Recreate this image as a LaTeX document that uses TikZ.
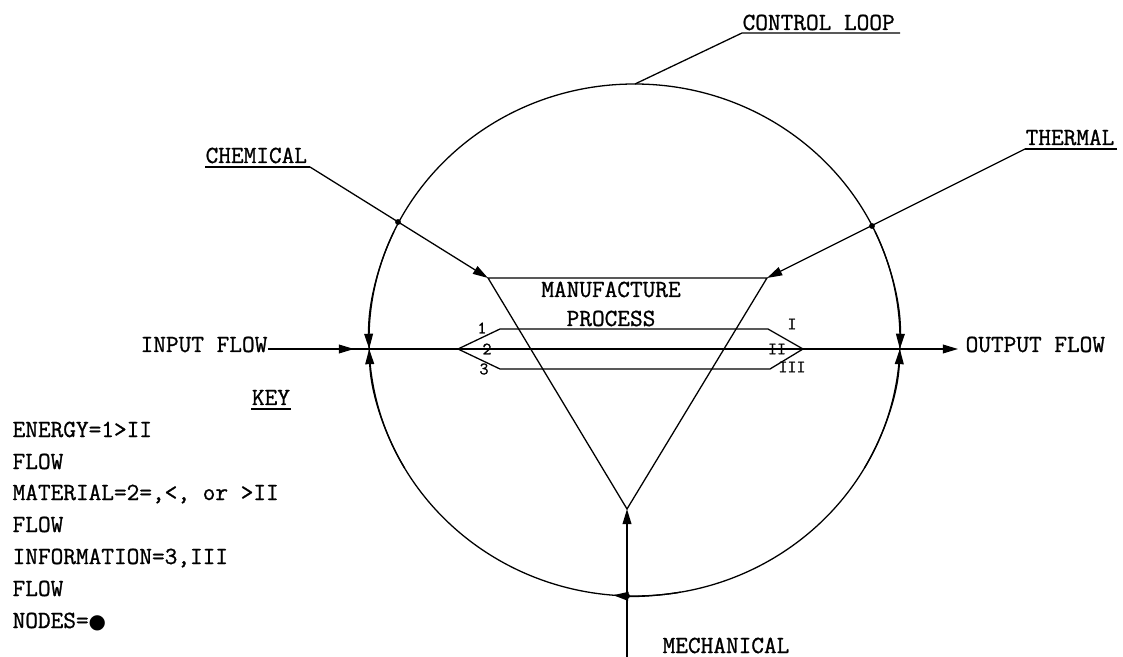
\documentclass[tikz,border=0pt]{standalone}
\usepackage{fontspec}
\setmonofont{Latin Modern Mono}[FakeBold=1]
\newfontfamily\dotfont{DejaVu Sans}
\usetikzlibrary{arrows.meta}
\tikzset{
	flowarrow/.style={-{Triangle[length=13pt,width=7.5pt]}},
	nodedot/.style={circle,fill=black,inner sep=0pt,minimum size=5pt},
	lbl/.style={inner sep=0pt,anchor=base west,font=\ttfamily\fontsize{21}{26}\selectfont},
	num/.style={inner sep=0pt,font=\ttfamily\fontsize{15}{18}\selectfont},
}
\begin{document}
\begin{tikzpicture}[x=0.03cm,y=-0.03cm,line width=1.1pt]
	\useasboundingbox (0,0) rectangle (1123,657);

	%Control loop
	\coordinate (c) at (634.5,340);
	\draw (c) ellipse [x radius=265.5, y radius=256];
	\draw[flowarrow] (c) ++(205:265.5 and 256) arc[start angle=205, end angle=178, x radius=265.5, y radius=256];
	\draw[flowarrow] (c) ++(150:265.5 and 256) arc[start angle=150, end angle=178, x radius=265.5, y radius=256];
	\draw[flowarrow] (c) ++(-25:265.5 and 256) arc[start angle=-25, end angle=2, x radius=265.5, y radius=256];
	\draw[flowarrow] (c) ++(30:265.5 and 256) arc[start angle=30, end angle=2, x radius=265.5, y radius=256];
	\draw[flowarrow] (c) ++(80:265.5 and 256) arc[start angle=80, end angle=94.6, x radius=265.5, y radius=256];
	\node[lbl] at (742,30) (loop) {CONTROL LOOP};
	\coordinate (loopA) at (742,33);
	\coordinate (loopB) at (900,33);
	\coordinate (loopTop) at (635,84);
	\draw (loopB) -- (loopA) -- (loopTop);

	%Process
	\coordinate (t1) at (488,278);
	\coordinate (t2) at (767,278);
	\coordinate (t3) at (627,509);
	\draw (t1) -- (t2) -- (t3) -- cycle;
	\node[lbl,anchor=base] at (611,297) (manu) {MANUFACTURE};
	\node[lbl,anchor=base] at (611,326) (proc) {PROCESS};
	\coordinate (h1) at (458,349);
	\coordinate (h2) at (500,329);
	\coordinate (h3) at (768,329);
	\coordinate (h4) at (803,349);
	\coordinate (h5) at (770,369);
	\coordinate (h6) at (500,369);
	\draw (h1) -- (h2) -- (h3) -- (h4) -- (h5) -- (h6) -- cycle;
	\node[num] at (482,328) (n1) {1};
	\node[num] at (487,349) (n2) {2};
	\node[num] at (484,369) (n3) {3};
	\node[num] at (792,324) (r1) {I};
	\node[num] at (777,349) (r2) {II};
	\node[num] at (792,367) (r3) {III};

	%Flow line
	\node[lbl] at (140,352) (inflow) {INPUT FLOW};
	\node[lbl] at (965,352) (outflow) {OUTPUT FLOW};
	\coordinate (inStart) at (268,349);
	\coordinate (inTip) at (354,349);
	\coordinate (outTip) at (958,349);
	\draw[flowarrow] (inStart) -- (inTip);
	\draw[flowarrow] (inStart) -- (outTip);

	%Chemical
	\node[lbl] at (205,163) (chem) {CHEMICAL};
	\coordinate (chemA) at (205,167);
	\coordinate (chemB) at (310,167);
	\node[nodedot] at (398,222) (chemDot) {};
	\draw (chemA) -- (chemB);
	\draw[flowarrow] (chemB) -- (t1);

	%Thermal
	\node[lbl] at (1025,145) (therm) {THERMAL};
	\coordinate (thermA) at (1117,149);
	\coordinate (thermB) at (1025,149);
	\node[nodedot] at (872,226) (thermDot) {};
	\draw (thermA) -- (thermB);
	\draw[flowarrow] (thermB) -- (t2);

	%Mechanical
	\node[lbl] at (662,653) (mech) {MECHANICAL};
	\coordinate (mechStart) at (627,657);
	\node[nodedot] at (627,596) (mechDot) {};
	\draw[flowarrow,line width=1.4pt] (mechStart) -- (t3);

	%Key
	\node[lbl,anchor=base] at (271,405) (key) {KEY};
	\draw ([yshift=-3.5pt]key.base west) -- ([yshift=-3.5pt]key.base east);
	\node[lbl] at (12,437) (k1) {ENERGY=1>II};
	\node[lbl] at (12,469) (k2) {FLOW};
	\node[lbl] at (12,500) (k3) {MATERIAL=2=,<, or >II};
	\node[lbl] at (12,532) (k4) {FLOW};
	\node[lbl] at (12,564) (k5) {INFORMATION=3,III};
	\node[lbl] at (12,596) (k6) {FLOW};
	\node[lbl] at (12,628) (k7) {NODES={\dotfont\fontsize{17}{20}\selectfont ●}};

\end{tikzpicture}
\end{document}
